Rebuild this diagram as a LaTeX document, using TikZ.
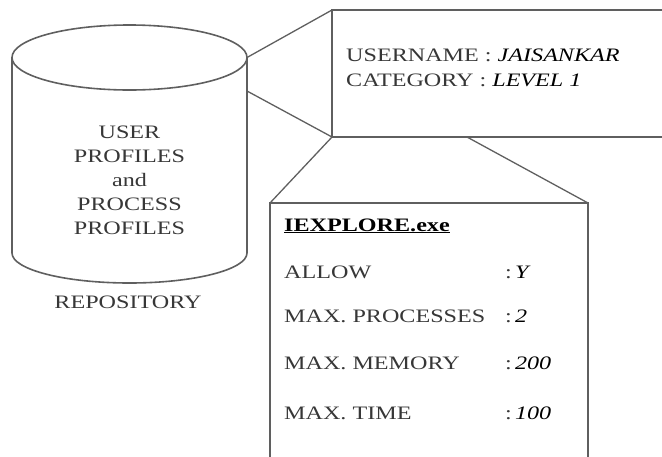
\documentclass[tikz,border=0pt]{standalone}
\usepackage{fontspec}
\setmainfont{Liberation Serif}[FakeStretch=1.27]
\definecolor{linec}{RGB}{95,95,95}
\definecolor{textc}{RGB}{55,55,55}
\begin{document}
\begin{tikzpicture}[x=1pt,y=-1pt,
  shape line/.style={draw=linec,line width=1.6pt},
  lbl/.style={inner sep=0pt,text=textc,font=\fontsize{19}{24}\selectfont},
  val/.style={font=\fontsize{19}{24}\selectfont\itshape,text=black}]
\useasboundingbox (0,0) rectangle (662,456);
% cylinder
\coordinate (cylTL) at (12,57.5);
\coordinate (cylTR) at (247,57.5);
\coordinate (cylBL) at (12,253);
\coordinate (cylBR) at (247,253);
\coordinate (cylR2) at (247,91);
\draw[shape line] (129.5,57.5) ellipse [x radius=117.5, y radius=32.5];
\draw[shape line] (cylTL) -- (cylBL) arc[start angle=180, end angle=0, x radius=117.5, y radius=30] -- (cylTR);
\node[lbl,align=center] (cyltext) at (129.5,180) {USER\\PROFILES\\and\\PROCESS\\PROFILES};
\node[lbl] (repo) at (128,302) {REPOSITORY};
% upper box
\coordinate (ubTL) at (332,10);
\coordinate (ubBL) at (332,137);
\coordinate (ubB2) at (467,137);
\draw[shape line] (680,10) -- (ubTL) -- (ubBL) -- (680,137);
\node[lbl,anchor=west,align=left,font=\fontsize{19}{25}\selectfont] (user) at (346,67.5)
  {USERNAME : \textcolor{black}{\itshape JAISANKAR}\\CATEGORY : \textcolor{black}{\itshape LEVEL 1}};
% lower box
\coordinate (lbTL) at (270,203);
\coordinate (lbTR) at (588,203);
\draw[shape line] (270,470) -- (lbTL) -- (lbTR) -- (588,470);
\node[lbl,anchor=base west,text=black] (exe) at (284,231) {\textbf{\underline{IEXPLORE.exe}}};
\node[lbl,anchor=base west] (allow) at (284,278) {ALLOW};
\node[lbl,anchor=base west] (maxp) at (284,322) {MAX. PROCESSES};
\node[lbl,anchor=base west] (maxm) at (284,369) {MAX. MEMORY};
\node[lbl,anchor=base west] (maxt) at (284,419) {MAX. TIME};
\node[lbl,anchor=base west] (vallow) at (505,278) {:\,\textcolor{black}{\itshape Y}};
\node[lbl,anchor=base west] (vmaxp) at (505,322) {:\,\textcolor{black}{\itshape 2}};
\node[lbl,anchor=base west] (vmaxm) at (505,369) {:\,\textcolor{black}{\itshape 200}};
\node[lbl,anchor=base west] (vmaxt) at (505,419) {:\,\textcolor{black}{\itshape 100}};
% connectors
\draw[shape line,line width=1.3pt] (cylTR) -- (ubTL);
\draw[shape line,line width=1.3pt] (cylR2) -- (ubBL);
\draw[shape line,line width=1.3pt] (lbTL) -- (ubBL);
\draw[shape line,line width=1.3pt] (lbTR) -- (ubB2);
\end{tikzpicture}
\end{document}
